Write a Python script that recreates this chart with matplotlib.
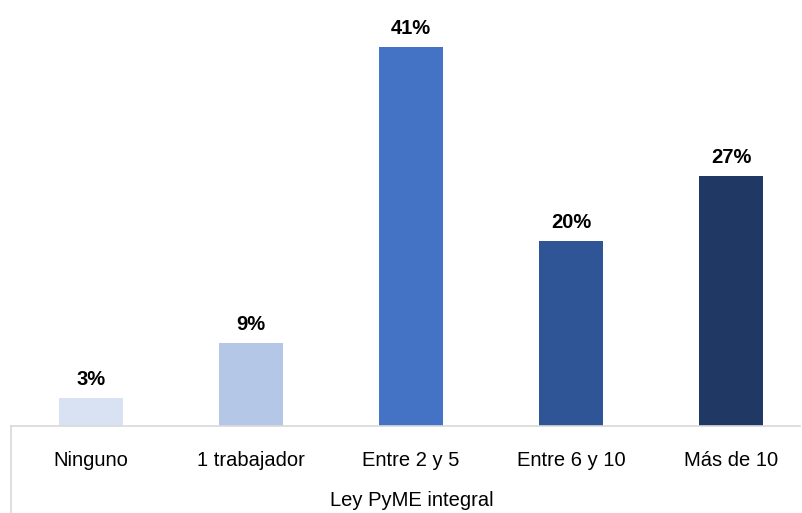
import matplotlib.pyplot as plt

plt.rcParams['font.family'] = ['Liberation Sans', 'DejaVu Sans']

categories = ['Ninguno', '1 trabajador', 'Entre 2 y 5', 'Entre 6 y 10', 'Más de 10']
values = [3, 9, 41, 20, 27]
labels = ['3%', '9%', '41%', '20%', '27%']
colors = ['#D9E2F3', '#B4C7E7', '#4472C4', '#2F5597', '#203864']
group_label = 'Ley PyME integral'

W, H = 803, 513
fig = plt.figure(figsize=(W / 100, H / 100), dpi=100)
ax = fig.add_axes([11 / W, 87 / H, 789 / W, 426 / H])

x = range(len(categories))
ax.bar(x, values, width=0.4, color=colors)
for i, v in enumerate(values):
    ax.text(i, v + 1.0, labels[i], ha='center', va='bottom',
            fontsize=14.5, fontweight='bold', color='black')

ax.set_xlim(-0.5, 4.43)
ax.set_ylim(0, 46.1)
ax.set_yticks([])
ax.set_xticks(list(x))
ax.set_xticklabels(categories, fontsize=14.5)
ax.tick_params(axis='x', length=0, pad=18)
for side in ['top', 'right', 'left']:
    ax.spines[side].set_visible(False)
ax.spines['bottom'].set_color('#D9D9D9')
ax.spines['bottom'].set_linewidth(1.2)

# vertical group separator below the axis
ax.plot([0, 0], [0, -90 / 426], transform=ax.transAxes,
        color='#D9D9D9', lw=1.2, clip_on=False)

fig.text(412 / W, (H - 501) / H, group_label, ha='center', va='center',
         fontsize=14.5)

fig.savefig('out.png', dpi=100)
